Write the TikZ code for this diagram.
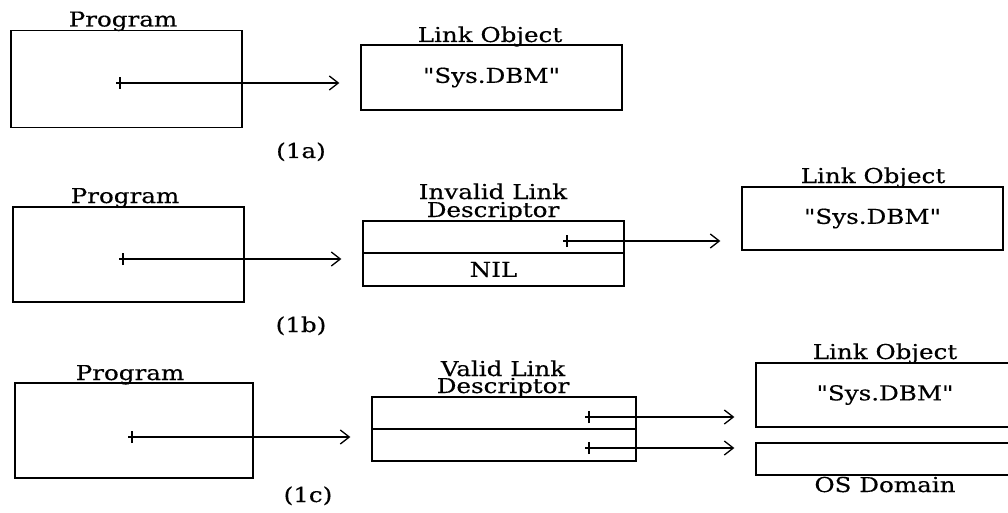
\documentclass[tikz,border=0pt]{standalone}
\usepackage{fontspec}
\setmainfont{DejaVu Serif}[Ligatures=TeXOff, FakeStretch=1.2, FakeBold=0.4]
\usetikzlibrary{arrows.meta}
\tikzset{
  txt/.style={font=\fontsize{20.5}{20.5}\selectfont},
  box/.style={draw, line width=1.3pt, inner sep=0pt, txt},
  title/.style={inner sep=0pt, anchor=base, txt},
  ptr/.style={line width=1.3pt, -{Straight Barb[length=9pt,width=14pt,line width=1.3pt]}, shorten >=21pt},
  tick/.style={line width=1.3pt}
}
\newcommand{\dq}{\symbol{34}}
\begin{document}
\begin{tikzpicture}[x=1pt,y=-1pt]
\clip (0,0) rectangle (1008,513);
\fill[white] (0,0) rectangle (1008,513);

% ---- (1a) ----
\node[box, minimum width=231pt, minimum height=97pt] (pa) at (126.5,79) {};
\node[title] (pat) at (123,26.5) {Program};
\node[box, minimum width=261pt, minimum height=65pt] (la) at (491.5,77.5) {\dq Sys.DBM\dq};
\node[title] (lat) at (490,42) {Link Object};
\coordinate (sa) at (120,83);
\draw[tick] ([yshift=-6pt]sa) -- ([yshift=6pt]sa);
\draw[ptr] ([xshift=-4pt]sa) -- (sa -| la.west);
\node[title] (ca) at (301,158) {(1a)};

% ---- (1b) ----
\node[box, minimum width=231pt, minimum height=95pt] (pb) at (128.5,254.5) {};
\node[title] (pbt) at (125,203) {Program};
\node[box, minimum width=261pt, minimum height=32pt] (db1) at (493.5,237) {};
\node[box, minimum width=261pt, minimum height=33pt] (db2) at (493.5,269.5) {NIL};
\node[title, text height=12pt, text depth=2pt] (dbt1) at (493,199) {Invalid Link};
\node[title, text height=12pt, text depth=3pt] (dbt2) at (493,217) {Descriptor};
\coordinate (sb) at (123,259);
\draw[tick] ([yshift=-6pt]sb) -- ([yshift=6pt]sb);
\draw[ptr] ([xshift=-4pt]sb) -- (sb -| db1.west);
\coordinate (sb2) at (567,241);
\draw[tick] ([yshift=-6pt]sb2) -- ([yshift=6pt]sb2);
\node[box, minimum width=261pt, minimum height=63pt] (lb) at (872.5,218.5) {\dq Sys.DBM\dq};
\node[title] (lbt) at (873,183) {Link Object};
\draw[ptr] ([xshift=-4pt]sb2) -- (sb2 -| lb.west);
\node[title] (cb) at (301,332) {(1b)};

% ---- (1c) ----
\node[box, minimum width=238pt, minimum height=95pt] (pc) at (134,430.5) {};
\node[title] (pct) at (130,380) {Program};
\node[box, minimum width=264pt, minimum height=32pt] (dc1) at (504,413) {};
\node[box, minimum width=264pt, minimum height=32pt] (dc2) at (504,445) {};
\node[title, text height=12pt, text depth=2pt] (dct1) at (503,376) {Valid Link};
\node[title, text height=12pt, text depth=3pt] (dct2) at (503,393) {Descriptor};
\coordinate (sc) at (132,437);
\draw[tick] ([yshift=-6pt]sc) -- ([yshift=6pt]sc);
\draw[ptr] ([xshift=-4pt]sc) -- (sc -| dc1.west);
\node[box, minimum width=258pt, minimum height=64pt] (lc) at (885,395) {\dq Sys.DBM\dq};
\node[title] (lct) at (885,359) {Link Object};
\node[box, minimum width=258pt, minimum height=32pt] (oc) at (885,459) {};
\node[title] (oct) at (885,492) {OS Domain};
\coordinate (sc1) at (589,417);
\coordinate (sc2) at (589,448);
\draw[tick] ([yshift=-6pt]sc1) -- ([yshift=6pt]sc1);
\draw[tick] ([yshift=-6pt]sc2) -- ([yshift=6pt]sc2);
\draw[ptr] ([xshift=-4pt]sc1) -- (sc1 -| lc.west);
\draw[ptr] ([xshift=-4pt]sc2) -- (sc2 -| oc.west);
\node[title] (cc) at (308,502) {(1c)};
\end{tikzpicture}
\end{document}
